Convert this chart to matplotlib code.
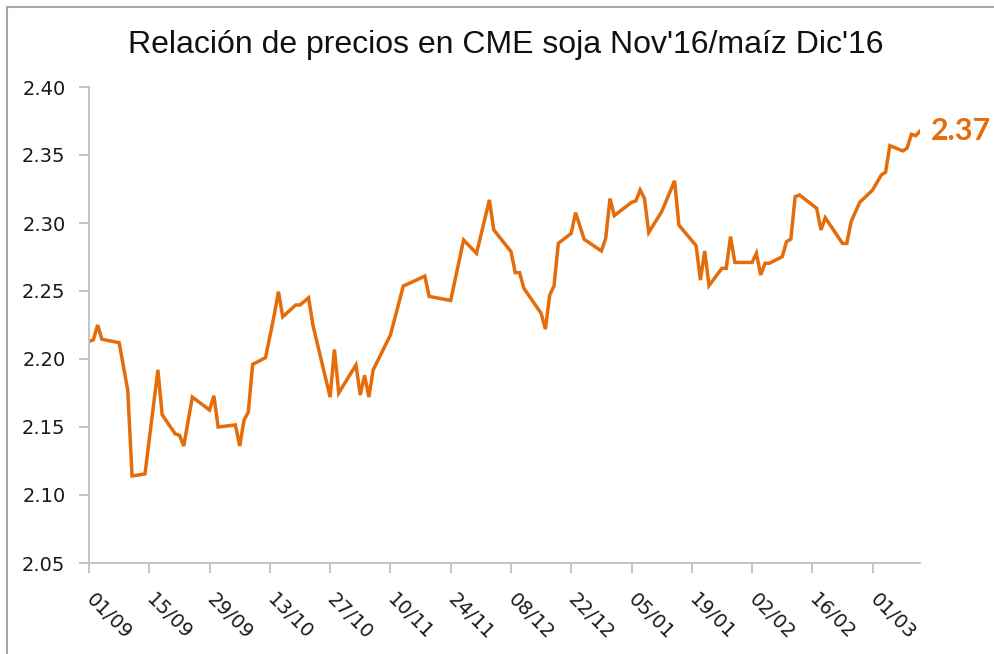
import pandas as pd
import matplotlib
matplotlib.use("Agg")
import matplotlib.pyplot as plt
import matplotlib.dates as mdates
from matplotlib.lines import Line2D

title = "Relación de precios en CME soja Nov'16/maíz Dic'16"

dates = [
    "2015-09-01", "2015-09-02", "2015-09-03", "2015-09-04", "2015-09-08", "2015-09-10",
    "2015-09-11", "2015-09-14", "2015-09-17", "2015-09-18", "2015-09-21", "2015-09-22",
    "2015-09-23", "2015-09-25", "2015-09-29", "2015-09-30", "2015-10-01", "2015-10-05",
    "2015-10-06", "2015-10-07", "2015-10-08", "2015-10-09", "2015-10-12", "2015-10-14",
    "2015-10-15", "2015-10-16", "2015-10-19", "2015-10-20", "2015-10-22", "2015-10-23",
    "2015-10-27", "2015-10-28", "2015-10-29", "2015-11-02", "2015-11-03", "2015-11-04",
    "2015-11-05", "2015-11-06", "2015-11-10", "2015-11-13", "2015-11-16", "2015-11-18",
    "2015-11-19", "2015-11-24", "2015-11-27", "2015-11-30", "2015-12-03", "2015-12-04",
    "2015-12-08", "2015-12-09", "2015-12-10", "2015-12-11", "2015-12-15", "2015-12-16",
    "2015-12-17", "2015-12-18", "2015-12-19", "2015-12-22", "2015-12-23", "2015-12-25",
    "2015-12-29", "2015-12-30", "2015-12-31", "2016-01-01", "2016-01-05", "2016-01-06",
    "2016-01-07", "2016-01-08", "2016-01-09", "2016-01-12", "2016-01-15", "2016-01-16",
    "2016-01-20", "2016-01-21", "2016-01-22", "2016-01-23", "2016-01-26", "2016-01-27",
    "2016-01-28", "2016-01-29", "2016-02-02", "2016-02-03", "2016-02-04", "2016-02-05",
    "2016-02-06", "2016-02-09", "2016-02-10", "2016-02-11", "2016-02-12", "2016-02-13",
    "2016-02-17", "2016-02-18", "2016-02-19", "2016-02-23", "2016-02-24", "2016-02-25",
    "2016-02-27", "2016-03-01", "2016-03-03", "2016-03-04", "2016-03-05", "2016-03-08",
    "2016-03-09", "2016-03-10", "2016-03-11", "2016-03-12",
]

ratio = [
    2.213, 2.214, 2.225, 2.2145, 2.212, 2.177,
    2.114, 2.1155, 2.192, 2.159, 2.145, 2.144,
    2.136, 2.172, 2.1625, 2.173, 2.150, 2.1515,
    2.136, 2.155, 2.161, 2.196, 2.201, 2.232,
    2.2495, 2.231, 2.2397, 2.2397, 2.245, 2.225,
    2.172, 2.207, 2.175, 2.1956, 2.1735, 2.188,
    2.172, 2.192, 2.2176, 2.2537, 2.258, 2.261,
    2.246, 2.243, 2.2875, 2.2777, 2.317, 2.295,
    2.279, 2.2635, 2.2635, 2.252, 2.2336, 2.222,
    2.247, 2.2537, 2.285, 2.2924, 2.3076, 2.288,
    2.2794, 2.2887, 2.318, 2.3054, 2.3152, 2.3162,
    2.3243, 2.318, 2.293, 2.3083, 2.331, 2.2985,
    2.2833, 2.258, 2.2794, 2.254, 2.2667, 2.2667,
    2.290, 2.271, 2.271, 2.2777, 2.2618, 2.2704,
    2.2704, 2.2752, 2.2863, 2.2882, 2.3193, 2.3206,
    2.3108, 2.2949, 2.3039, 2.285, 2.285, 2.301,
    2.3152, 2.3243, 2.3353, 2.3373, 2.3569, 2.353,
    2.355, 2.3652, 2.3642, 2.3676,
]

y_ticks = [2.05, 2.10, 2.15, 2.20, 2.25, 2.30, 2.35, 2.40]

df = pd.DataFrame({"fecha": pd.to_datetime(dates), "ratio": ratio})

orange = "#E46C0A"
axis_grey = "#BFBFBF"

plt.rcParams["font.family"] = ["DejaVu Sans"]

fig = plt.figure(figsize=(9.95, 6.54), dpi=100)
ax = fig.add_axes([89 / 995, 1 - 563 / 654, (920 - 89) / 995, (563 - 87) / 654])

ax.plot(df["fecha"], df["ratio"], color=orange, linewidth=2.5, solid_joinstyle="miter")

ax.set_xlim(df["fecha"].iloc[0], df["fecha"].iloc[-1])
ax.set_ylim(2.05, 2.40)
ax.set_yticks(y_ticks)
ax.set_yticklabels([f"{v:.2f}" for v in y_ticks])

x_ticks = pd.date_range("2015-09-01", periods=14, freq="14D")
ax.set_xticks(x_ticks)
ax.xaxis.set_major_formatter(mdates.DateFormatter("%d/%m"))

for side in ["top", "right"]:
    ax.spines[side].set_visible(False)
for side in ["left", "bottom"]:
    ax.spines[side].set_color(axis_grey)
    ax.spines[side].set_linewidth(1.3)

ax.tick_params(axis="both", direction="out", length=7, width=1.3, color=axis_grey,
               labelsize=14, labelcolor="#1a1a1a")
ax.tick_params(axis="y", pad=10)
ax.tick_params(axis="x", pad=17)
for lbl in ax.get_xticklabels():
    lbl.set_rotation(-45)
    lbl.set_ha("left")
    lbl.set_va("center")
    lbl.set_rotation_mode("anchor")

# last value label
ax.annotate(f"{df['ratio'].iloc[-1]:.2f}", xy=(df["fecha"].iloc[-1], df["ratio"].iloc[-1]),
            xytext=(8, 0), textcoords="offset points", ha="left", va="center",
            color=orange, fontsize=22, fontweight="bold", family=["Lato", "DejaVu Sans"],
            annotation_clip=False)

fig.text(506 / 995, 1 - 45 / 654, title, ha="center", va="center", fontsize=23,
         family=["Liberation Sans", "DejaVu Sans"], color="#111111")

# outer frame (top and left edges)
fig.add_artist(Line2D([7 / 995, 7 / 995], [0, 1 - 7 / 654], transform=fig.transFigure,
                      color="#A6A6A6", linewidth=1.5))
fig.add_artist(Line2D([7 / 995, 1], [1 - 7 / 654, 1 - 7 / 654], transform=fig.transFigure,
                      color="#A6A6A6", linewidth=1.5))

fig.savefig("out.png", dpi=100)
